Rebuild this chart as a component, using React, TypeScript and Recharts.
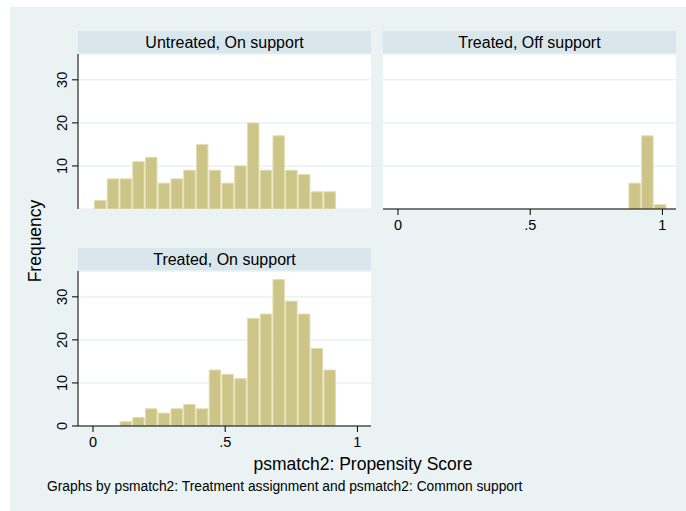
import React from 'react';
import { BarChart, Bar, XAxis, YAxis, CartesianGrid } from 'recharts';

// histogram bins shared by all three panels (21 bins)
const binStart = 0.002;
const binWidth = 0.0482;

const untreatedOn = [2, 7, 7, 11, 12, 6, 7, 9, 15, 9, 6, 10, 20, 9, 17, 9, 8, 4, 4, 0, 0];
const treatedOff = [0, 0, 0, 0, 0, 0, 0, 0, 0, 0, 0, 0, 0, 0, 0, 0, 0, 0, 6, 17, 1];
const treatedOn = [0, 0, 1, 2, 4, 3, 4, 5, 4, 13, 12, 11, 25, 26, 34, 29, 26, 18, 13, 0, 0];

const xDomain: [number, number] = [-0.0567, 1.0514];
const xTicks = [0, 0.5, 1];
const xTickLabels = ['0', '.5', '1'];
const yDomain: [number, number] = [0, 36];
const yTicks = [0, 10, 20, 30];

const FONT = '"Liberation Sans", Arial, Helvetica, sans-serif';
const BAR = '#CDC587';
const BAR_EDGE = '#E2DDB2';
const GRID = '#EAF2F3';
const BG = '#EAF2F3';
const STRIP = '#D9E6EB';

const PLOT_W = 293;
const PLOT_H = 155;

// bar width in px for one bin on the shared x scale
const barPx = (binWidth * PLOT_W) / (xDomain[1] - xDomain[0]);

const toRows = (counts: number[]) =>
  counts.map((c, i) => ({ mid: binStart + (i + 0.5) * binWidth, count: c === 0 ? null : c }));

const RotTick = (props: any) => {
  const { x, y, payload } = props;
  return (
    <text
      x={x}
      y={y}
      transform={`rotate(-90 ${x} ${y})`}
      textAnchor="middle"
      fontSize={14.5}
      fontFamily={FONT}
      fill="#000"
    >
      {payload.value}
    </text>
  );
};

const fmtX = (v: number) => xTickLabels[xTicks.indexOf(v)] ?? String(v);

type PanelProps = {
  counts: number[];
  showY: boolean;
  showX: boolean;
};

const Panel = ({ counts, showY, showX }: PanelProps) => {
  const yW = showY ? 48 : 0;
  const width = yW + PLOT_W + 5;
  const height = 4 + PLOT_H + (showX ? 30 : 0) + 6;
  return (
    <BarChart
      width={width}
      height={height}
      data={toRows(counts)}
      margin={{ top: 4, right: 5, bottom: 6, left: 0 }}
      barGap={0}
    >
      <CartesianGrid vertical={false} stroke={GRID} strokeWidth={1.5} fill="#fff" />
      <XAxis
        dataKey="mid"
        type="number"
        domain={xDomain}
        ticks={xTicks}
        allowDataOverflow
        hide={!showX}
        tickFormatter={fmtX}
        height={showX ? 30 : 0}
        tickSize={6}
        tickMargin={5}
        axisLine={{ stroke: '#000' }}
        tickLine={{ stroke: '#000' }}
        tick={{ fontSize: 14.5, fill: '#000', fontFamily: FONT }}
      />
      <YAxis
        domain={yDomain}
        ticks={yTicks}
        allowDataOverflow
        hide={!showY}
        width={yW}
        tickSize={6}
        tickMargin={5}
        axisLine={{ stroke: '#000' }}
        tickLine={{ stroke: '#000' }}
        tick={<RotTick />}
      />
      <Bar
        dataKey="count"
        barSize={barPx}
        fill={BAR}
        stroke={BAR_EDGE}
        strokeWidth={1}
        isAnimationActive={false}
      />
    </BarChart>
  );
};

const Strip = ({ left, top, label }: { left: number; top: number; label: string }) => (
  <div
    style={{
      position: 'absolute',
      left,
      top,
      width: PLOT_W,
      height: 23,
      background: STRIP,
      color: '#000',
      fontFamily: FONT,
      fontSize: 16,
      lineHeight: '23px',
      textAlign: 'center',
    }}
  >
    {label}
  </div>
);

export default function App() {
  return (
    <div style={{ position: 'absolute', left: 0, top: 0, width: 686, height: 511, background: '#fff', overflow: 'hidden' }}>
      <div style={{ position: 'absolute', left: 10, top: 7, width: 676, height: 504, background: BG }} />

      <Strip left={78} top={31} label="Untreated, On support" />
      <Strip left={383} top={31} label="Treated, Off support" />
      <Strip left={78} top={248} label="Treated, On support" />

      <div style={{ position: 'absolute', left: 30, top: 50 }}>
        <Panel counts={untreatedOn} showY showX={false} />
      </div>
      <div style={{ position: 'absolute', left: 383, top: 50 }}>
        <Panel counts={treatedOff} showY={false} showX />
      </div>
      <div style={{ position: 'absolute', left: 30, top: 267 }}>
        <Panel counts={treatedOn} showY showX />
      </div>

      <svg width={686} height={511} style={{ position: 'absolute', left: 0, top: 0, pointerEvents: 'none' }}>
        <text x={40.5} y={241} transform="rotate(-90 40.5 241)" textAnchor="middle" fontSize={17.5} fontFamily={FONT} fill="#000">
          Frequency
        </text>
        <text x={363} y={470} textAnchor="middle" fontSize={17.5} fontFamily={FONT} fill="#000">
          psmatch2: Propensity Score
        </text>
        <text x={47} y={491} fontSize={13.8} fontFamily={FONT} fill="#000">
          Graphs by psmatch2: Treatment assignment and psmatch2: Common support
        </text>
      </svg>
    </div>
  );
}
